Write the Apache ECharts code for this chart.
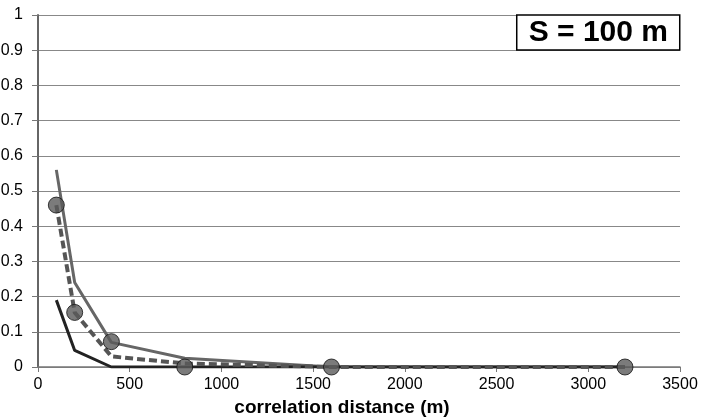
<!DOCTYPE html>
<html>
<head>
<meta charset="utf-8">
<title>S = 100 m</title>
<script src="https://cdn.jsdelivr.net/npm/echarts@6/dist/echarts.min.js"></script>
</head>
<body style="margin:0">
<div id="main" style="width:701px;height:420px;"></div>
<script type="text/javascript">
// correlation distances (m)
var distances = [100, 200, 400, 800, 1600, 3200];
// series
var upperLine = [0.56, 0.24, 0.07, 0.025, 0, 0];
var dashedLine = [0.46, 0.155, 0.03, 0.01, 0, 0];
var lowerLine = [0.19, 0.047, 0, 0, 0, 0];
var circles = [0.46, 0.155, 0.072, 0, 0, 0];
var titleText = 'S = 100 m';
var xName = 'correlation distance (m)';

function pairs(vals) {
    var out = [];
    for (var i = 0; i < distances.length; i++) out.push([distances[i], vals[i]]);
    return out;
}

var myChart = echarts.init(document.getElementById('main'));

var option = {
    animation: false,
    backgroundColor: '#fff',
    textStyle: { fontFamily: 'Liberation Sans, Arial, sans-serif' },
    title: {
        text: titleText,
        right: 21,
        top: 15,
        padding: [2, 12, 2, 12],
        borderColor: '#000',
        borderWidth: 1.5,
        backgroundColor: '#fff',
        textStyle: { fontSize: 30, lineHeight: 31, fontWeight: 'bold', color: '#000', fontFamily: 'Liberation Sans, Arial, sans-serif' }
    },
    grid: { left: 38, right: 21, top: 15, bottom: 53, containLabel: false, outerBoundsMode: 'none' },
    xAxis: {
        type: 'value',
        min: 0, max: 3500, interval: 500,
        name: xName,
        nameLocation: 'middle',
        nameGap: 31,
        nameTextStyle: { fontSize: 19, fontWeight: 'bold', color: '#000', padding: [0, 34, 0, 0] },
        axisLine: { lineStyle: { color: '#777', width: 1.5 } },
        axisTick: { show: true, length: 5, lineStyle: { color: '#777' } },
        axisLabel: { fontSize: 16, color: '#000', margin: 10, formatter: function (v) { return String(v); } },
        splitLine: { show: false }
    },
    yAxis: {
        type: 'value',
        min: 0, max: 1, interval: 0.1,
        axisLine: { show: true, lineStyle: { color: '#666', width: 2 } },
        axisTick: { show: true, inside: false, length: 6, lineStyle: { color: '#777' } },
        axisLabel: { fontSize: 16, color: '#000', margin: 15 },
        splitLine: { lineStyle: { color: '#888', width: 1 } }
    },
    series: [
        {
            type: 'line', data: pairs(upperLine), symbol: 'none',
            lineStyle: { color: '#666', width: 3 }, z: 2
        },
        {
            type: 'line', data: pairs(lowerLine), symbol: 'none',
            lineStyle: { color: '#222', width: 3 }, z: 3
        },
        {
            type: 'line', data: pairs(dashedLine), symbol: 'none',
            lineStyle: { color: '#555', width: 4, type: [8, 4] }, z: 4
        },
        {
            type: 'scatter', data: pairs(circles), symbol: 'circle', symbolSize: 16,
            itemStyle: { color: '#5a5a5a', borderColor: '#111', borderWidth: 1 }, z: 5
        }
    ]
};

myChart.setOption(option);
</script>
</body>
</html>
